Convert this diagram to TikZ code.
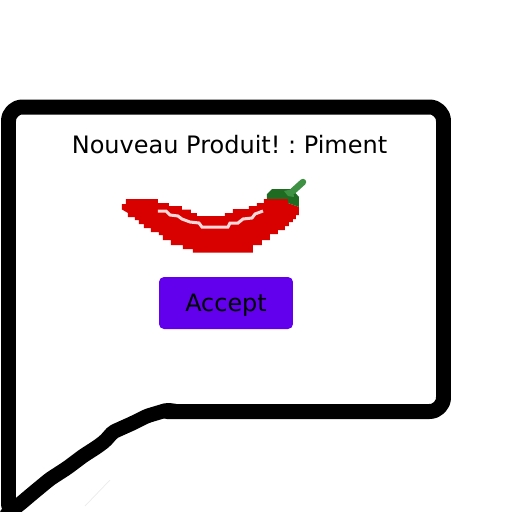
\documentclass[tikz,border=0pt]{standalone}
\usepackage{fontspec}
\setmainfont{DejaVu Sans}
\definecolor{btnviolet}{HTML}{6200EE}
\definecolor{chilired}{HTML}{D90000}
\definecolor{stemdark}{HTML}{1F6B21}
\definecolor{stemlight}{HTML}{3E9142}
\tikzset{
	bubble/.style={line width=0.3cm,line join=round,line cap=round},
	btnbox/.style={fill=btnviolet,rounded corners=0.1cm,minimum width=2.68cm,minimum height=1.04cm,inner sep=0pt,text height=10pt,text depth=0.2pt,font=\fontsize{13.6}{16}\selectfont}
}
\begin{document}
\begin{tikzpicture}[x=0.02cm,y=-0.02cm]
	\useasboundingbox (0,0) rectangle (512,512);
	\draw[bubble,rounded corners=0.28cm](8.5,505)--(8.5,398)--(8.5,107)--(443.5,107)--(443.5,411.5)--(167,411.5);
	\draw[bubble,line width=0.29cm,rounded corners=0.04cm](175,411)--(167,410)--(147,416)--(133,423)--(113,432)--(105,441)--(97,447)--(83,456)--(67,468)--(50,479)--(33,493)--(20,504)--(7,514);
	\draw[black!8,thin](110,480)--(85,506);
	\node (title) at (229.5,145) {\frenchspacing\fontsize{13.66}{16}\selectfont Nouveau Produit! : Piment};
	% chili
	\fill[chilired](122,204)--(126,204)--(126,199)--(158,199)--(158,203)--(169,203)--(169,206)--(182,206)--(182,209.5)--(191,209.5)--(191,213)--(197,213)--(197,216)--(225,216)--(225,213)--(233,213)--(233,209)--(249,209)--(249,206)--(257,206)--(257,203)--(264,203)--(264,199)--(288,199)--(288,203)--(299,207)--(299,215)--(296,215)--(296,219)--(293,219)--(293,222)--(289,222)--(289,226)--(285,226)--(285,230)--(278,230)--(278,234)--(270,234)--(270,240)--(262,240)--(262,245)--(253,245)--(253,252.5)--(193,252.5)--(193,249)--(183,249)--(183,245)--(171,245)--(171,240)--(163,240)--(163,235)--(159,235)--(159,232)--(151,232)--(151,228)--(144,228)--(144,224)--(139,224)--(139,220)--(135,220)--(135,217)--(128,217)--(128,213)--(122,209.5)--cycle;
	% stem
	\fill[stemdark](267,199)--(267,194)--(272,189)--(292,189)--(299,197)--(299,207)--(288,203)--(288,199)--cycle;
	\fill[stemlight](284,191)--(293,189)--(294,197)--(288,196)--cycle;
	\draw[stemlight,line width=0.13cm,line cap=round](293,191)--(303,182);
	\draw[white!85!chilired,line width=0.06cm](158,211)--(166,211)--(170,215)--(178,216)--(182,219)--(190,222)--(199,223)--(202,227)--(228,227)--(230,223)--(238,223)--(243,219)--(252,218)--(255,214)--(263,211);
	\node[btnbox] (accept) at (226,303) {Accept};
\end{tikzpicture}
\end{document}
